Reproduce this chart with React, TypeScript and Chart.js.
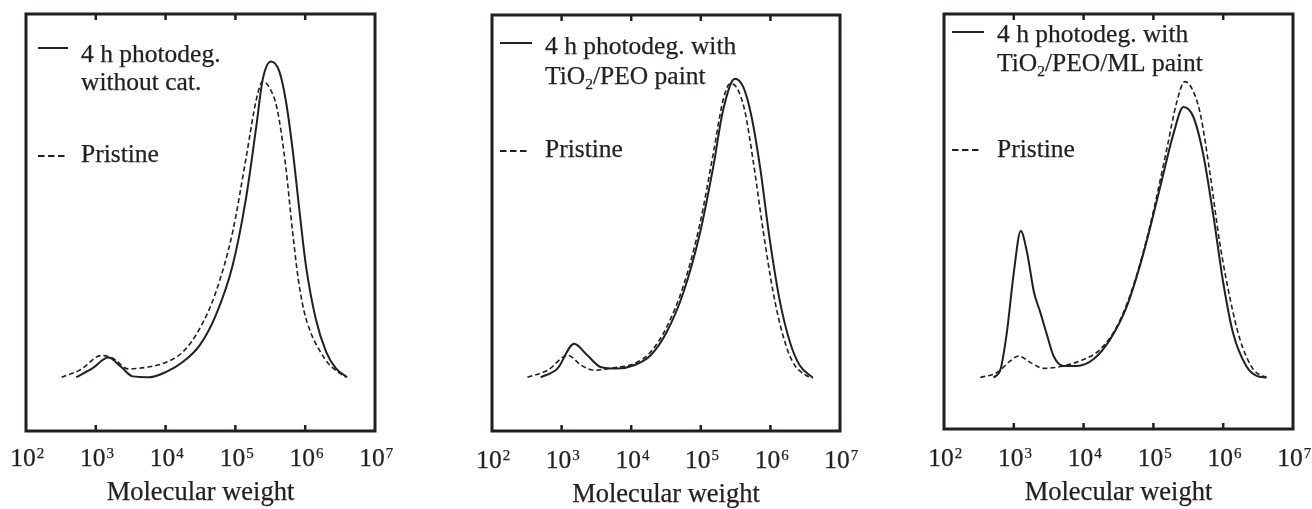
import React, { useEffect, useRef } from "react";
import { Chart, registerables } from "chart.js";

Chart.register(...registerables);

const FONT = '"Liberation Serif", "Times New Roman", serif';
const INK = "#231f20";

// Axis ticks (powers of ten) and title
const tickExponents = [2, 3, 4, 5, 6, 7];
const innerTickExponents = [3, 4, 5, 6];
const xAxisTitle = "Molecular weight";
const pristineLabel = "Pristine";

// ---------- Panel 1: without catalyst ----------
const p1SolidLabel = ["4 h photodeg.", "without cat."];
const p1SolidLogMw = [2.72, 2.95, 3.18, 3.36, 3.53, 3.77, 4.01, 4.25, 4.49, 4.72, 4.96, 5.15, 5.30, 5.39, 5.51, 5.63, 5.72, 5.82, 5.91, 6.01, 6.15, 6.30, 6.44, 6.60];
const p1SolidSignal = [12.9, 15.0, 17.6, 15.4, 13.1, 12.9, 14.2, 16.6, 20.6, 27.8, 39.7, 55.6, 73.1, 84.2, 88.6, 86.2, 79.5, 67.5, 54.0, 39.7, 27.0, 19.0, 15.0, 12.9];
const p1PristineLogMw = [2.51, 2.77, 3.08, 3.25, 3.46, 3.77, 4.01, 4.25, 4.49, 4.72, 4.96, 5.15, 5.30, 5.39, 5.49, 5.60, 5.72, 5.82, 5.90, 5.98, 6.08, 6.20, 6.34, 6.58];
const p1PristineSignal = [12.9, 14.6, 18.1, 17.4, 14.9, 15.4, 16.5, 19.0, 24.6, 33.3, 47.7, 65.2, 79.5, 83.8, 82.3, 77.1, 63.6, 47.7, 36.5, 29.0, 23.6, 19.5, 16.0, 12.9];

// ---------- Panel 2: TiO2/PEO paint ----------
const p2SolidLabel = ["4 h photodeg. with", "TiO_2/PEO paint"];
const p2SolidLogMw = [2.70, 2.94, 3.18, 3.37, 3.56, 3.80, 4.04, 4.28, 4.51, 4.75, 4.99, 5.18, 5.32, 5.49, 5.61, 5.73, 5.85, 5.99, 6.13, 6.28, 6.42, 6.61];
const p2SolidSignal = [12.9, 15.0, 21.0, 18.2, 15.4, 15.0, 15.8, 18.2, 23.8, 33.3, 47.7, 63.6, 77.1, 84.7, 82.7, 75.5, 63.6, 46.1, 31.7, 21.4, 15.8, 12.8];
const p2PristineLogMw = [2.51, 2.80, 3.09, 3.28, 3.47, 3.75, 4.04, 4.28, 4.51, 4.75, 4.99, 5.18, 5.32, 5.42, 5.51, 5.63, 5.75, 5.90, 6.04, 6.18, 6.32, 6.51, 6.61];
const p2PristineSignal = [12.9, 14.6, 18.2, 15.8, 14.6, 15.2, 16.2, 19.0, 25.0, 34.9, 50.0, 66.8, 79.5, 83.5, 82.7, 77.1, 65.2, 47.7, 33.3, 23.0, 16.6, 13.4, 12.8];

// ---------- Panel 3: TiO2/PEO/ML paint ----------
const p3SolidLabel = ["4 h photodeg. with", "TiO_2/PEO/ML paint"];
const p3SolidLogMw = [2.71, 2.81, 2.90, 3.00, 3.10, 3.19, 3.29, 3.38, 3.48, 3.57, 3.71, 3.90, 4.14, 4.38, 4.62, 4.86, 5.10, 5.29, 5.43, 5.57, 5.71, 5.86, 6.00, 6.14, 6.33, 6.48, 6.62];
const p3SolidSignal = [12.4, 14.4, 23.2, 37.7, 47.7, 42.5, 32.9, 28.1, 22.4, 17.6, 15.2, 15.2, 16.8, 21.6, 29.6, 42.5, 58.5, 71.3, 77.6, 75.3, 66.5, 51.3, 35.3, 23.2, 15.2, 12.8, 12.4];
const p3PristineLogMw = [2.52, 2.76, 2.95, 3.07, 3.24, 3.43, 3.71, 3.95, 4.24, 4.48, 4.71, 4.95, 5.19, 5.33, 5.45, 5.55, 5.67, 5.81, 5.95, 6.10, 6.24, 6.43, 6.62];
const p3PristineSignal = [12.4, 13.6, 16.4, 17.6, 16.0, 14.6, 15.2, 16.4, 19.2, 24.8, 34.4, 48.9, 67.3, 78.5, 83.7, 82.1, 76.1, 61.7, 44.9, 31.3, 21.6, 14.4, 12.4];

type PanelCfg = {
  left: number;
  width: number;
  pad: { left: number; right: number; top: number; bottom: number };
  tickBaseline: number;
  titleBaseline: number;
  solidLabel: string[];
  solidLogMw: number[];
  solidSignal: number[];
  pristineLogMw: number[];
  pristineSignal: number[];
  legend: {
    lineX1: number;
    lineX2: number;
    dashX2: number;
    solidY: number;
    textX: number;
    solidBaselines: number[];
    dashY: number;
    pristineBaseline: number;
  };
};

const panels: PanelCfg[] = [
  {
    left: 0,
    width: 430,
    pad: { left: 26, right: 55, top: 14, bottom: 78 },
    tickBaseline: 465.5,
    titleBaseline: 500,
    solidLabel: p1SolidLabel,
    solidLogMw: p1SolidLogMw,
    solidSignal: p1SolidSignal,
    pristineLogMw: p1PristineLogMw,
    pristineSignal: p1PristineSignal,
    legend: { lineX1: 38, lineX2: 68, dashX2: 64.5, solidY: 48, textX: 81, solidBaselines: [61.5, 89.5], dashY: 156, pristineBaseline: 162 },
  },
  {
    left: 440,
    width: 430,
    pad: { left: 52, right: 30, top: 15, bottom: 78 },
    tickBaseline: 468,
    titleBaseline: 502,
    solidLabel: p2SolidLabel,
    solidLogMw: p2SolidLogMw,
    solidSignal: p2SolidSignal,
    pristineLogMw: p2PristineLogMw,
    pristineSignal: p2PristineSignal,
    legend: { lineX1: 60, lineX2: 92, dashX2: 88.5, solidY: 43, textX: 105, solidBaselines: [53.5, 83.5], dashY: 151, pristineBaseline: 157 },
  },
  {
    left: 900,
    width: 412,
    pad: { left: 44, right: 19, top: 14, bottom: 80 },
    tickBaseline: 465.5,
    titleBaseline: 500,
    solidLabel: p3SolidLabel,
    solidLogMw: p3SolidLogMw,
    solidSignal: p3SolidSignal,
    pristineLogMw: p3PristineLogMw,
    pristineSignal: p3PristineSignal,
    legend: { lineX1: 52, lineX2: 84, dashX2: 80.5, solidY: 32, textX: 97, solidBaselines: [42, 70.5], dashY: 150, pristineBaseline: 157 },
  },
];

// Draw text with a hairline stroke to match the print weight
function drawText(ctx: CanvasRenderingContext2D, text: string, x: number, baseline: number, size: number) {
  ctx.save();
  ctx.font = `${size}px ${FONT}`;
  ctx.fillText(text, x, baseline);
  ctx.lineWidth = 0.25;
  ctx.strokeText(text, x, baseline);
  const w = ctx.measureText(text).width;
  ctx.restore();
  return w;
}

function drawRichText(ctx: CanvasRenderingContext2D, text: string, x: number, baseline: number) {
  const parts = text.split(/_(\d)/);
  let cx = x;
  parts.forEach((part, i) => {
    if (!part) return;
    if (i % 2 === 1) {
      cx += drawText(ctx, part, cx, baseline + 5, 15.5);
    } else {
      cx += drawText(ctx, part, cx, baseline, 25.5);
    }
  });
}

function makeFramePlugin(cfg: PanelCfg) {
  return {
    id: "frame",
    afterDraw(chart: any) {
      const ctx: CanvasRenderingContext2D = chart.ctx;
      const ca = chart.chartArea;
      const xs = chart.scales.x;
      ctx.save();
      ctx.strokeStyle = INK;
      ctx.fillStyle = INK;
      ctx.setLineDash([]);
      // frame
      ctx.lineWidth = 3;
      ctx.strokeRect(ca.left, ca.top, ca.right - ca.left, ca.bottom - ca.top);
      // inward tick marks top and bottom
      ctx.lineWidth = 2.5;
      for (const e of innerTickExponents) {
        const x = xs.getPixelForValue(Math.pow(10, e));
        ctx.beginPath();
        ctx.moveTo(x, ca.bottom);
        ctx.lineTo(x, ca.bottom - 6);
        ctx.moveTo(x, ca.top);
        ctx.lineTo(x, ca.top + 6);
        ctx.stroke();
      }
      // tick labels 10^n
      ctx.textAlign = "left";
      ctx.textBaseline = "alphabetic";
      for (const e of tickExponents) {
        const x = xs.getPixelForValue(Math.pow(10, e));
        ctx.font = `25.5px ${FONT}`;
        const w = ctx.measureText("10").width;
        const x0 = x - 3 - w / 2;
        drawText(ctx, "10", x0, cfg.tickBaseline, 25.5);
        drawText(ctx, String(e), x0 + w + 1, cfg.tickBaseline - 8, 15);
      }
      // axis title
      ctx.font = `26.5px ${FONT}`;
      const tw = ctx.measureText(xAxisTitle).width;
      drawText(ctx, xAxisTitle, (ca.left + ca.right) / 2 - tw / 2, cfg.titleBaseline, 26.5);
      // legend
      const lg = cfg.legend;
      ctx.lineWidth = 2;
      ctx.beginPath();
      ctx.moveTo(lg.lineX1, lg.solidY);
      ctx.lineTo(lg.lineX2, lg.solidY);
      ctx.stroke();
      cfg.solidLabel.forEach((line, i) => drawRichText(ctx, line, lg.textX, lg.solidBaselines[i]));
      ctx.setLineDash([6.5, 3.5]);
      ctx.beginPath();
      ctx.moveTo(lg.lineX1, lg.dashY);
      ctx.lineTo(lg.dashX2, lg.dashY);
      ctx.stroke();
      ctx.setLineDash([]);
      drawRichText(ctx, pristineLabel, lg.textX, lg.pristineBaseline);
      ctx.restore();
    },
  };
}

function Panel({ cfg }: { cfg: PanelCfg }) {
  const ref = useRef<HTMLCanvasElement>(null);
  useEffect(() => {
    const canvas = ref.current;
    if (!canvas) return;
    const chart = new Chart(canvas, {
      type: "line",
      data: {
        datasets: [
          {
            label: cfg.solidLabel.join(" ").replace("_", ""),
            data: cfg.solidLogMw.map((lx, i) => ({ x: Math.pow(10, lx), y: cfg.solidSignal[i] })),
            borderColor: INK,
            borderWidth: 2,
            pointRadius: 0,
            fill: false,
            cubicInterpolationMode: "monotone",
          },
          {
            label: pristineLabel,
            data: cfg.pristineLogMw.map((lx, i) => ({ x: Math.pow(10, lx), y: cfg.pristineSignal[i] })),
            borderColor: INK,
            borderWidth: 1.6,
            borderDash: [5, 3],
            pointRadius: 0,
            fill: false,
            cubicInterpolationMode: "monotone",
          },
        ],
      },
      options: {
        animation: false,
        responsive: false,
        devicePixelRatio: 1,
        events: [],
        layout: { padding: cfg.pad },
        scales: {
          x: { type: "logarithmic", min: 1e2, max: 1e7, display: false },
          y: { type: "linear", min: 0, max: 100, display: false },
        },
        plugins: { legend: { display: false }, tooltip: { enabled: false } },
      },
      plugins: [makeFramePlugin(cfg)],
    } as any);
    return () => chart.destroy();
  }, [cfg]);
  return (
    <canvas
      ref={ref}
      width={cfg.width}
      height={509}
      style={{ position: "absolute", left: cfg.left, top: 0, width: cfg.width, height: 509 }}
    />
  );
}

export default function App() {
  return (
    <div style={{ position: "absolute", left: 0, top: 0, width: 1312, height: 509, background: "#fff", overflow: "hidden" }}>
      {panels.map((p, i) => (
        <Panel key={i} cfg={p} />
      ))}
    </div>
  );
}
